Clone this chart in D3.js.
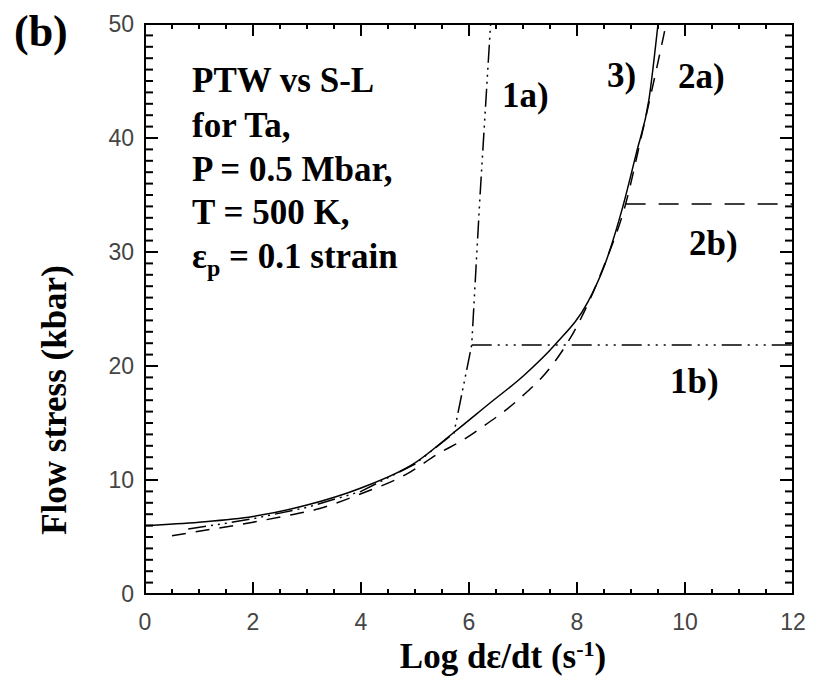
<!DOCTYPE html>
<html><head><meta charset="utf-8">
<script src="https://cdn.jsdelivr.net/npm/d3@7"></script>
<style>body{margin:0;background:#fff}</style>
</head><body>
<script>
const xTicks = [0,2,4,6,8,10,12];
const yTicks = [0,10,20,30,40,50];
// curve 3 (solid)
const c3x = [0,1,2,3,4,5,5.7,6.4,7,7.6,8.2,8.5,8.85,9.1,9.33,9.5];
const c3y = [6.0,6.3,6.8,7.8,9.3,11.5,14.1,16.8,19.1,21.9,25.6,28.7,34,38.7,43.3,50];
// curve 2a (dashed)
const c2ax = [0.5,1,2,2.6,3.2,4,4.8,5.5,5.85,6.2,6.9,7.56,8.0,8.5,8.9,9.2,9.47,9.65];
const c2ay = [5.1,5.5,6.3,6.85,7.45,8.8,10.4,12.5,13.4,14.5,17,20.2,23.5,28.8,34.2,40.3,46,50];
// curve 2b (dashed horizontal)
const c2bx = [8.9,12];
const c2by = [34.2,34.2];
// curve 1a (dash-dot-dot-dot)
const c1ax = [0.8,1.5,2,3,4,5,5.72,6.05,6.2,6.4];
const c1ay = [5.7,6.2,6.6,7.6,9.0,11.4,14.1,21.84,34.6,50];
// curve 1b
const c1bx = [6.05,12];
const c1by = [21.84,21.84];

const W=821,H=683;
const svg=d3.select("body").append("svg").attr("width",W).attr("height",H);
const x=d3.scaleLinear().domain([0,12]).range([145,793]);
const y=d3.scaleLinear().domain([0,50]).range([594,24]);
const serif="'Liberation Serif','Times New Roman',serif";

function pts(xs,ys){return xs.map((v,i)=>[v,ys[i]]);}
const line=d3.line().x(d=>x(d[0])).y(d=>y(d[1])).curve(d3.curveMonotoneX);
const lineL=d3.line().x(d=>x(d[0])).y(d=>y(d[1]));
const g=svg.append("g");
function draw(xs,ys,dash,lin){
  g.append("path").attr("d",(lin?lineL:line)(pts(xs,ys))).attr("fill","none").attr("stroke","#000")
   .attr("stroke-width",1.5).attr("stroke-dasharray",dash||null);
}
draw(c3x,c3y,null);
draw(c2ax,c2ay,"14,10");
draw(c2bx,c2by,"20,13",true);
draw(c1ax,c1ay,"18,5,2,5,2,5,2,5",true);
draw(c1bx,c1by,"20,6,2,6,2,6,2,6",true);

// axes box
const ax=svg.append("g");
ax.append("rect").attr("x",x(0)).attr("y",y(50)).attr("width",x(12)-x(0)).attr("height",y(0)-y(50))
  .attr("fill","none").attr("stroke","#000").attr("stroke-width",2);
const xMinor=d3.range(0,12.01,0.5);
const yMinor=d3.range(0,50.01,1);
xMinor.forEach(v=>{
  const major = Math.abs(v/2-Math.round(v/2))<1e-6;
  const L = major?12:5;
  ax.append("line").attr("x1",x(v)).attr("x2",x(v)).attr("y1",y(0)).attr("y2",y(0)-L).attr("stroke","#000").attr("stroke-width",2);
  ax.append("line").attr("x1",x(v)).attr("x2",x(v)).attr("y1",y(50)).attr("y2",y(50)+L).attr("stroke","#000").attr("stroke-width",2);
});
yMinor.forEach(v=>{
  const major = v%10===0;
  const L = major?13:8;
  ax.append("line").attr("x1",x(0)).attr("x2",x(0)+L).attr("y1",y(v)).attr("y2",y(v)).attr("stroke","#000").attr("stroke-width",2);
  ax.append("line").attr("x1",x(12)).attr("x2",x(12)-L).attr("y1",y(v)).attr("y2",y(v)).attr("stroke","#000").attr("stroke-width",2);
});
// tick labels
const tf="'Liberation Sans',Arial,sans-serif";
xTicks.forEach(v=>{
  svg.append("text").attr("x",x(v)).attr("y",630).attr("text-anchor","middle")
    .attr("font-family",tf).attr("font-size",23).attr("fill","#444").text(v);
});
yTicks.forEach(v=>{
  svg.append("text").attr("x",134).attr("y",y(v)+8).attr("text-anchor","end")
    .attr("font-family",tf).attr("font-size",23).attr("fill","#444").text(v);
});

function T(txt,xx,yy,fs,anchor){
  return svg.append("text").attr("x",xx).attr("y",yy).attr("font-family",serif).attr("font-weight","bold")
    .attr("font-size",fs).attr("text-anchor",anchor||"start").attr("fill","#000").text(txt);
}
T("(b)",14,46,44);
const ann=["PTW vs S-L","for Ta,","P = 0.5 Mbar,","T = 500 K,"];
const annY=[92,137,181,224];
ann.forEach((s,i)=>T(s,192,annY[i],35));
const ep=svg.append("text").attr("x",192).attr("y",268).attr("font-family",serif).attr("font-weight","bold").attr("font-size",35);
ep.append("tspan").text("ε");
ep.append("tspan").attr("font-size",24).attr("dy",8).text("p");
ep.append("tspan").attr("dy",-8).text(" = 0.1 strain");

T("1a)",502,107,35);
T("3)",607,87,35);
T("2a)",678,88,35);
T("2b)",689,255,35);
T("1b)",670,393,35);

// axis titles
const xl=svg.append("text").attr("x",503).attr("y",668).attr("text-anchor","middle")
  .attr("font-family",serif).attr("font-weight","bold").attr("font-size",35);
xl.append("tspan").text("Log dε/dt (s");
xl.append("tspan").attr("font-size",22).attr("dy",-12).text("-1");
xl.append("tspan").attr("dy",12).text(")");
svg.append("text").attr("transform","translate(66,400) rotate(-90)").attr("text-anchor","middle")
  .attr("font-family",serif).attr("font-weight","bold").attr("font-size",35).text("Flow stress (kbar)");
</script>
</body></html>
